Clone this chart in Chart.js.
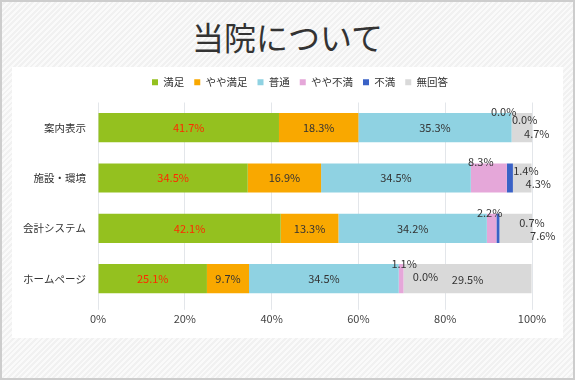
<!DOCTYPE html>
<html>
<head>
<meta charset="utf-8">
<script src="https://cdn.jsdelivr.net/npm/chart.js@4/dist/chart.umd.min.js"></script>
<style>
	html, body { margin: 0; padding: 0; }
	body {
		width: 575px;
		height: 380px;
		box-sizing: border-box;
		border: 2px solid #cdcdcd;
		position: relative;
		overflow: hidden;
		background: repeating-linear-gradient(135deg, #f1f1f1 0px, #f1f1f1 2px, #fafafa 2px, #fafafa 4px);
		font-family: "Noto Sans CJK JP", sans-serif;
	}
	#title {
		position: absolute;
		left: 0;
		top: 14px;
		width: 571px;
		text-align: center;
		font-size: 32px;
		line-height: 40px;
		color: #333;
	}
	#panel {
		position: absolute;
		left: 10px;
		top: 65px;
		width: 551px;
		height: 271px;
		background: #fff;
	}
</style>
</head>
<body>
<div id="title">当院について</div>
<div id="panel"><canvas id="barChart" width="551" height="271"></canvas></div>
<script>
// data
const categories = ["案内表示", "施設・環境", "会計システム", "ホームページ"];
const seriesNames = ["満足", "やや満足", "普通", "やや不満", "不満", "無回答"];
const manzoku = [41.7, 34.5, 42.1, 25.1];
const yayaManzoku = [18.3, 16.9, 13.3, 9.7];
const futsuu = [35.3, 34.5, 34.2, 34.5];
const yayaFuman = [0.0, 8.3, 2.2, 1.1];
const fuman = [0.0, 1.4, 0.7, 0.0];
const mukaitou = [4.7, 4.3, 7.6, 29.5];
const xTicks = [0, 20, 40, 60, 80, 100];

const colors = ["#94c11f", "#f9a800", "#8fd2e2", "#e5a7d9", "#3a62c6", "#d9d9d9"];
const labelColors = ["#ff2a00", "#333", "#333", "#333", "#333", "#333"];

// label offsets (px) for the thin segments, [dataset][row]
const labelOffsets = {
	3: [[-8, -16], [-8, -16], [-2, -16], [3, -15]],
	4: [[13, -8], [16, -7], [34, -6], [22, -2]],
	5: [[15, 6], [16, 6], [27, 7], [0, 1]],
};

const allValues = [manzoku, yayaManzoku, futsuu, yayaFuman, fuman, mukaitou];

const barLabels = {
	id: "barLabels",
	afterDatasetsDraw(chart) {
		const ctx = chart.ctx;
		ctx.save();
		ctx.font = "11px 'Noto Sans CJK JP'";
		ctx.textAlign = "center";
		ctx.textBaseline = "middle";
		chart.data.datasets.forEach((ds, i) => {
			chart.getDatasetMeta(i).data.forEach((bar, j) => {
				const left = Math.max(bar.base, chart.chartArea.left);
				const right = Math.min(bar.x, chart.chartArea.right);
				let x = (left + right) / 2;
				let y = bar.y;
				const off = labelOffsets[i] && labelOffsets[i][j];
				if (off) {
					x += off[0];
					y += off[1];
				}
				ctx.fillStyle = labelColors[i];
				ctx.fillText(ds.data[j].toFixed(1) + "%", x, y);
			});
		});
		ctx.restore();
	},
};

// extra space under the legend, and legend moved a bit right
const legendTweak = {
	id: "legendTweak",
	beforeInit(chart) {
		const fit = chart.legend.fit;
		chart.legend.fit = function () {
			fit.bind(chart.legend)();
			this.height += 5;
		};
	},
	afterLayout(chart) {
		chart.legend.left += 28;
		chart.legend.right += 28;
	},
};

const ctx = document.getElementById("barChart").getContext("2d");
new Chart(ctx, {
	type: "bar",
	data: {
		labels: categories,
		datasets: allValues.map((vals, i) => ({
			label: seriesNames[i],
			data: vals,
			backgroundColor: colors[i],
			borderWidth: 0,
			barPercentage: 0.58,
			categoryPercentage: 1,
		})),
	},
	options: {
		indexAxis: "y",
		responsive: false,
		animation: false,
		layout: { padding: { top: 0, right: 31, bottom: 11, left: 0 } },
		plugins: {
			legend: {
				position: "top",
				labels: {
					boxWidth: 6,
					boxHeight: 6,
					padding: 10,
					color: "#333",
					font: { size: 10.5, family: "'Noto Sans CJK JP'" },
				},
			},
			tooltip: { enabled: false },
		},
		scales: {
			x: {
				stacked: true,
				min: 0,
				max: 100,
				afterBuildTicks: (scale) => {
					scale.ticks = xTicks.map((v) => ({ value: v }));
				},
				grid: { color: "#e3e6ea", drawTicks: true, tickLength: 6 },
				border: { display: false },
				ticks: {
					color: "#444",
					padding: 2,
					font: { size: 11, family: "'Noto Sans CJK JP'" },
					callback: (v) => v + "%",
				},
			},
			y: {
				stacked: true,
				grid: { display: false, drawTicks: false },
				border: { display: false },
				afterFit: (scale) => {
					scale.width = 86;
				},
				ticks: {
					color: "#333",
					padding: 12,
					font: { size: 10.5, family: "'Noto Sans CJK JP'" },
				},
			},
		},
	},
	plugins: [barLabels, legendTweak],
});
</script>
</body>
</html>
